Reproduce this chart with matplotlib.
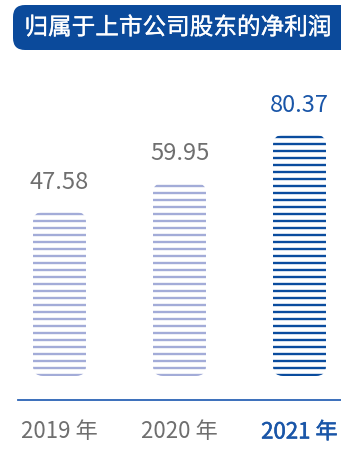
import numpy as np
import matplotlib
matplotlib.use("Agg")
import matplotlib.pyplot as plt
import matplotlib.patheffects as pe
from matplotlib.patches import FancyBboxPatch

plt.rcParams['font.family'] = ['Noto Sans CJK SC', 'DejaVu Sans']

title = "归属于上市公司股东的净利润"
categories = ["2019 年", "2020 年", "2021 年"]
values = [47.58, 59.95, 80.37]
value_labels = ["47.58", "59.95", "80.37"]

W, H = 341, 450
DPI = 100
fig = plt.figure(figsize=(W / DPI, H / DPI), dpi=DPI)

# axes placement in pixels
ax_bottom_px = 400
ax_top_px = 60
ax = fig.add_axes([0, (H - ax_bottom_px) / H, 1, (ax_bottom_px - ax_top_px) / H])

px_per_x = 120.0
px_per_y = 2.348
base = -22.3
xmin = -59.5 / px_per_x
xmax = xmin + W / px_per_x
ymin = base - 24 / px_per_y
ymax = ymin + (ax_bottom_px - ax_top_px) / px_per_y
ax.set_xlim(xmin, xmax)
ax.set_ylim(ymin, ymax)
ax.axis('off')

light = "#a3acd8"
dark = "#0a4c9e"
gray = "#6f6f6f"
colors = [light, light, dark]
label_colors = [gray, gray, "#1a56a8"]

x = np.arange(len(values))
width = 53 / px_per_x
bars = ax.bar(x, [v - base for v in values], bottom=base, width=width,
              color='none', edgecolor='none')

r_px = 10
aspect = px_per_x / px_per_y
step = 7 / px_per_y
for b, c in zip(bars, colors):
    x0, y0 = b.get_x(), b.get_y()
    w, h = b.get_width(), b.get_height()
    clip = FancyBboxPatch((x0, y0), w, h,
                          boxstyle=f"round,pad=0,rounding_size={r_px / px_per_x}",
                          mutation_aspect=aspect,
                          facecolor='none', edgecolor='none', transform=ax.transData)
    ax.add_patch(clip)
    ys = np.arange(y0 + 1.2 / px_per_y, y0 + h, step)
    lines = ax.hlines(ys, x0, x0 + w, colors=c, linewidth=1.7)
    lines.set_clip_path(clip)

for i, (b, lab, lc) in enumerate(zip(bars, value_labels, label_colors)):
    ax.annotate(lab, (b.get_x() + b.get_width() / 2, b.get_y() + b.get_height()),
                xytext=(0, 13), textcoords='offset points', ha='center', va='bottom',
                fontsize=17, color=lc)

# axis line
ax.axhline(ymin, xmin=18 / W, xmax=1, color="#2b63b5", linewidth=1.3, clip_on=False)

# category labels
for i, (cat, lc) in enumerate(zip(categories, label_colors)):
    t = ax.text(x[i], ymin - 32 / px_per_y, cat, ha='center', va='center',
                fontsize=16, color=lc)
    if i == 2:
        t.set_path_effects([pe.withStroke(linewidth=0.4, foreground=lc)])

# title box
tb = FancyBboxPatch((13 / W, (H - 50) / H), (W + 20) / W, 45 / H,
                    boxstyle=f"round,pad=0,rounding_size={12 / W}",
                    mutation_aspect=W / H,
                    facecolor="#0b4a9b", edgecolor='none',
                    transform=fig.transFigure, clip_on=False)
fig.patches.append(tb)
fig.text(178 / W, (H - 28) / H, title, ha='center', va='center',
         fontsize=17, color='white',
         path_effects=[pe.withStroke(linewidth=0.25, foreground='white')])

fig.savefig("out.png", dpi=DPI)
